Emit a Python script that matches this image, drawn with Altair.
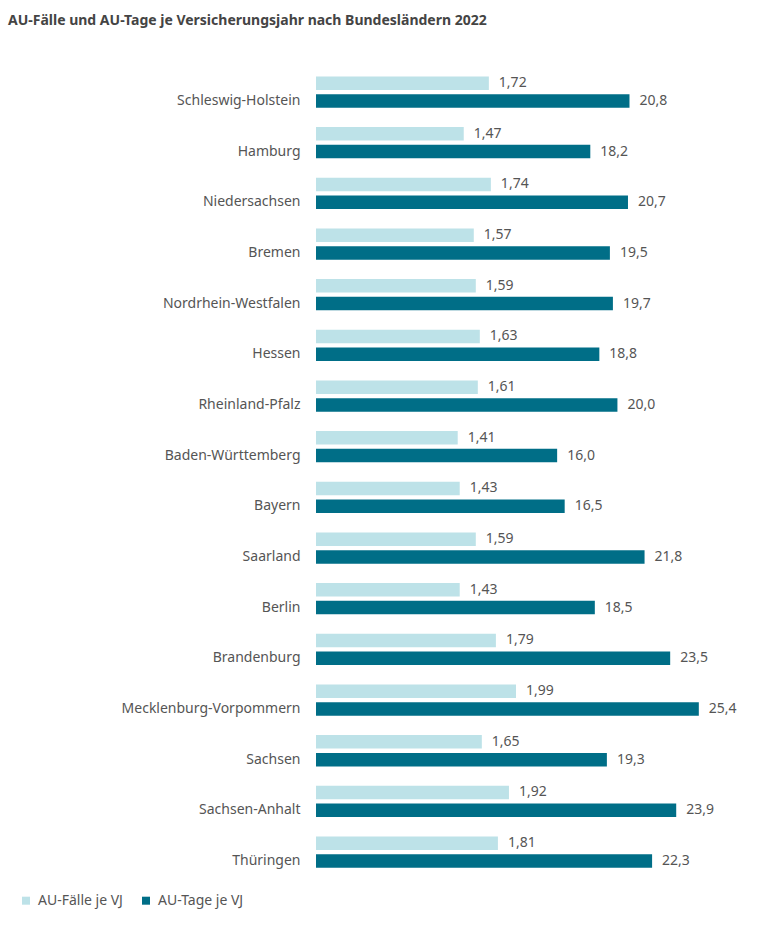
import altair as alt
import pandas as pd

states = ["Schleswig-Holstein", "Hamburg", "Niedersachsen", "Bremen",
          "Nordrhein-Westfalen", "Hessen", "Rheinland-Pfalz", "Baden-Württemberg",
          "Bayern", "Saarland", "Berlin", "Brandenburg", "Mecklenburg-Vorpommern",
          "Sachsen", "Sachsen-Anhalt", "Thüringen"]
faelle = [1.72, 1.47, 1.74, 1.57, 1.59, 1.63, 1.61, 1.41, 1.43, 1.59, 1.43, 1.79, 1.99, 1.65, 1.92, 1.81]
tage = [20.8, 18.2, 20.7, 19.5, 19.7, 18.8, 20.0, 16.0, 16.5, 21.8, 18.5, 23.5, 25.4, 19.3, 23.9, 22.3]
series = ["AU-Fälle je VJ", "AU-Tage je VJ"]
colors = ["#bde2e8", "#006e87"]

FONT = "Noto Sans"
TXT = "#555555"

dfl = pd.DataFrame({"Land": states, "v": faelle, "serie": series[0],
                    "lab": [f"{v:.2f}".replace(".", ",") for v in faelle]})
dft = pd.DataFrame({"Land": states, "v": tage, "serie": series[1],
                    "lab": [f"{v:.1f}".replace(".", ",") for v in tage]})

y = alt.Y("Land:N", sort=states,
          scale=alt.Scale(domain=states, paddingInner=0, paddingOuter=0),
          axis=alt.Axis(title=None, domain=False, ticks=False, labelPadding=16,
                        labelOffset=9, labelFontSize=14, labelColor=TXT,
                        labelFont=FONT, labelLimit=300))

color = alt.Color("serie:N", scale=alt.Scale(domain=series, range=colors),
                  legend=alt.Legend(orient="none", legendX=-297, legendY=827,
                                    direction="horizontal", title=None,
                                    symbolType="square", symbolSize=64,
                                    symbolStrokeWidth=0,
                                    labelFontSize=14, labelColor=TXT, labelFont=FONT,
                                    labelOffset=5, columnPadding=16))

def layer_for(df, dom, off):
    x = alt.X("v:Q", scale=alt.Scale(domain=[0, dom], nice=False, zero=True), axis=None)
    bar = alt.Chart(df).mark_bar(height=13.5, yOffset=off).encode(x=x, y=y, color=color)
    txt = alt.Chart(df).mark_text(align="left", baseline="middle", dx=10, yOffset=off,
                                  fontSize=14, font=FONT, color=TXT).encode(
        x=x, y=y, text="lab:N")
    return alt.layer(bar, txt)

chart = alt.layer(layer_for(dfl, 3.98, -8.9), layer_for(dft, 26.54, 8.9)).resolve_scale(
    x="independent"
).properties(
    width=400, height=810.7,
    background="white",
    autosize=alt.AutoSizeParams(type="none"),
    padding={"left": 316, "top": 66.7, "right": 51, "bottom": 52.6},
    title=alt.TitleParams("AU-Fälle und AU-Tage je Versicherungsjahr nach Bundesländern 2022",
                          anchor="start", frame="group", dx=-308, dy=14, offset=42,
                          baseline="alphabetic", fontSize=14, font=FONT,
                          fontWeight="bold", color="#444444"),
).configure_view(strokeWidth=0)

chart.save("out.html", embed_options={"renderer": "svg", "actions": False})
